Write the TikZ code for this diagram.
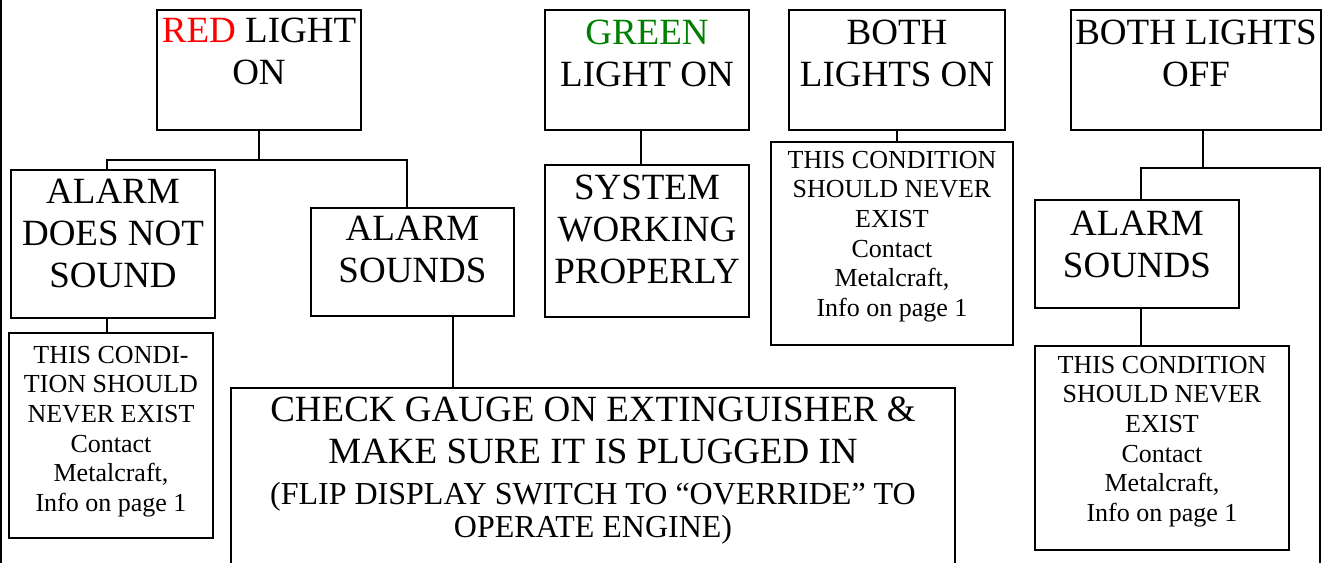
\documentclass[tikz,border=0pt]{standalone}
\usepackage{fontspec}
\setmainfont{Liberation Serif}
\usetikzlibrary{calc,positioning}
\definecolor{LampRed}{HTML}{FF0000}
\definecolor{LampGreen}{HTML}{008000}
% width, height, top gap, lines
\newcommand{\boxlines}[4]{\parbox[c][#2][t]{#1}{\centering\vspace{#3}#4\par}}

\begin{document}
\begin{tikzpicture}[x=1pt,y=-1pt,
    bigbox/.style={draw,line width=2pt,inner sep=0pt,anchor=north west,
      font=\fontsize{37}{42}\selectfont},
    notebox/.style={draw,line width=2pt,inner sep=0pt,anchor=north west,
      font=\fontsize{26}{29.6}\selectfont},
    link/.style={line width=2pt}
  ]
    \path[use as bounding box,clip] (0,0) rectangle (1329,562);
    \fill[white] (0,0) rectangle (1329,562);
    % page edge
    \draw[link] (1,-5) -- (1,570);
    % lamp states
    \node[bigbox] (red) at (156,9) {\boxlines{204pt}{120pt}{8pt}{%
      {\color{LampRed}RED} LIGHT\\ON}};
    \node[bigbox] (green) at (544,9) {\boxlines{204pt}{120pt}{10pt}{%
      {\color{LampGreen}GREEN}\\LIGHT ON}};
    \node[bigbox] (bothOn) at (788,9) {\boxlines{216pt}{120pt}{10pt}{%
      BOTH\\LIGHTS ON}};
    \node[bigbox] (bothOff) at (1070,9) {\boxlines{250pt}{120pt}{10pt}{%
      BOTH LIGHTS\\OFF}};
    % alarm states
    \node[bigbox] (alarmNo) at (10,169) {\boxlines{204pt}{148pt}{9pt}{%
      ALARM\\DOES NOT\\SOUND}};
    \node[bigbox] (alarmYes) at (310,207) {\boxlines{203pt}{108pt}{8pt}{%
      ALARM\\SOUNDS}};
    \node[bigbox] (system) at (544,164) {\boxlines{204pt}{152pt}{10pt}{%
      SYSTEM\\WORKING\\PROPERLY}};
    \node[bigbox] (alarmOff) at (1034,199) {\boxlines{204pt}{108pt}{11pt}{%
      ALARM\\SOUNDS}};
    % notes
    \node[notebox] (neverOn) at (770,141) {\boxlines{242pt}{203pt}{9pt}{%
      THIS CONDITION\\SHOULD NEVER\\EXIST\\Contact\\Metalcraft,\\Info on page 1}};
    \node[notebox] (neverNo) at (8,332) {\boxlines{204pt}{205pt}{13pt}{%
      THIS CONDI-\\TION SHOULD\\NEVER EXIST\\Contact\\Metalcraft,\\Info on page 1}};
    \node[notebox] (neverOff) at (1034,345) {\boxlines{254pt}{204pt}{10pt}{%
      THIS CONDITION\\SHOULD NEVER\\EXIST\\Contact\\Metalcraft,\\Info on page 1}};
    \node[bigbox] (check) at (230,387) {\boxlines{724pt}{200pt}{9pt}{%
      \fontsize{37}{42}\selectfont CHECK GAUGE ON EXTINGUISHER \&\\
      MAKE SURE IT IS PLUGGED IN\par
      \fontsize{32}{33}\selectfont\vspace{8pt}(FLIP DISPLAY SWITCH TO “OVERRIDE” TO\\
      OPERATE ENGINE)}};
    % connectors
    \draw[link] (red.south) -- ++(0,29) coordinate (redbar);
    \draw[link] ([xshift=-6pt]alarmNo.north) |- (redbar) -| ([xshift=-5.5pt]alarmYes.north);
    \draw[link] ([xshift=-6pt]alarmNo.south) -- ([xshift=-6pt]alarmNo.south |- neverNo.north);
    \draw[link] ([xshift=40.5pt]alarmYes.south) -- ([xshift=40.5pt]alarmYes.south |- check.north);
    \draw[link] ([xshift=-6pt]green.south) -- ([xshift=-6pt]system.north);
    \draw[link] (bothOn.south) -- (bothOn.south |- neverOn.north);
    \draw[link] ([xshift=7pt]bothOff.south) -- ++(0,37) coordinate (offbar);
    \coordinate (offdrop) at (1320,570);
    \draw[link] ([xshift=4pt]alarmOff.north) |- (offbar) -| (offdrop);
    \draw[link] ([xshift=4pt]alarmOff.south) -- ([xshift=4pt]alarmOff.south |- neverOff.north);
  \end{tikzpicture}
\end{document}
